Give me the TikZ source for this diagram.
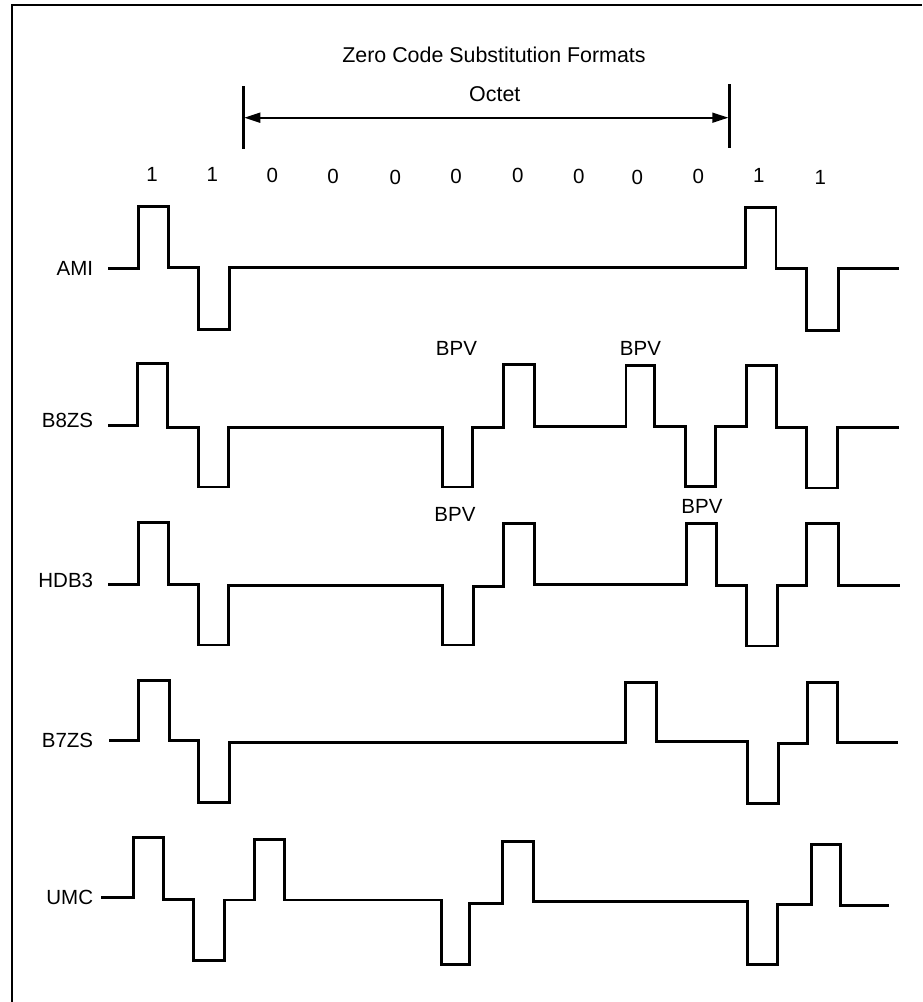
\documentclass[tikz,border=0pt]{standalone}
\usepackage{fontspec}
\setmainfont{Liberation Sans}
\usetikzlibrary{positioning,arrows.meta}

\begin{document}
\begin{tikzpicture}[
  x=1pt,y=-1pt,
  sigtext/.style={font=\fontsize{20.5}{24}\selectfont,inner sep=0pt,anchor=base},
  headtext/.style={sigtext,font=\fontsize{21.4}{24}\selectfont},
  bitno/.style={sigtext},
  siglab/.style={sigtext,anchor=base east},
  wave/.style={line width=2.6pt},
  tick/.style={line width=2.6pt},
  span/.style={{Triangle[length=16pt,width=10pt]}-{Triangle[length=16pt,width=10pt]},line width=1.7pt,shorten <=1pt,shorten >=1pt},
]
\useasboundingbox (0,0) rectangle (922,1002);
% Frame - open at the page edge
\draw[line width=2pt] (12,1002) -- (12,5) -- (922,5);

% Title and octet span
\node[headtext] (title) at (494,62.7) {Zero Code Substitution Formats};
\node[headtext] (octet) at (494.8,101.7) {Octet};
\coordinate (tickl) at (243.3,117.7);
\coordinate (tickr) at (729.3,117.7);
\draw[tick] (243.3,86) -- (tickl) -- (243.3,148.7);
\draw[tick] (729.3,84) -- (tickr) -- (729.3,147.7);
\draw[span] (tickl) -- (tickr);

% Bit values
\node[bitno] (b1) at (152,181.7) {1};
\node[bitno] (b2) at (212.3,181.7) {1};
\node[bitno] (b3) at (272.3,182.3) {0};
\node[bitno] (b4) at (333,183.3) {0};
\node[bitno] (b5) at (395.3,184.3) {0};
\node[bitno] (b6) at (456,183) {0};
\node[bitno] (b7) at (517.7,182) {0};
\node[bitno] (b8) at (578.7,183.3) {0};
\node[bitno] (b9) at (637.3,184.3) {0};
\node[bitno] (b10) at (698.3,183.3) {0};
\node[bitno] (b11) at (758.7,182.7) {1};
\node[bitno] (b12) at (820.3,184.3) {1};

% AMI
\node[siglab] (ami) at (93.3,275) {AMI};
\draw[wave] (108.3,268.3) -| (138.3,206.7) -| (168.3,267.3) -| (198.7,329.3) -| (229.7,267.3)
  -| (745.3,207.7) -| (776,268.3) -| (806.7,330.3) -| (838.3,268.3) -- (898.7,268.3);

% B8ZS
\node[siglab] (b8zs) at (93.3,427.7) {B8ZS};
\node[sigtext] (bpva) at (456.5,355.7) {BPV};
\node[sigtext] (bpvb) at (640.5,355.7) {BPV};
\draw[wave] (108.3,425.3) -| (137.3,363.7) -| (167.3,427.3) -| (198.7,487) -| (228.7,427.3)
  -| (442.7,487) -| (472.7,427.3) -| (503.7,364.3) -| (534.3,426.3) -| (626,365.3)
  -| (654.7,426.3) -| (685.3,486.3) -| (715.7,426.3) -| (746.7,365.3) -| (776.3,427.3)
  -| (806.7,488) -| (837.7,427.3) -- (898.7,427.3);

% HDB3
\node[siglab] (hdb3) at (93.3,587.7) {HDB3};
\node[sigtext] (bpvc) at (455,521.7) {BPV};
\node[sigtext] (bpvd) at (702,513.7) {BPV};
\draw[wave] (108.3,584.3) -| (138.3,522.7) -| (168.3,584.3) -| (198.7,645) -| (228.7,585.7)
  -| (442.7,645) -| (473.3,586.7) -| (503.7,523.3) -| (534.7,584.3) -| (686.7,523.3)
  -| (716.7,585.7) -| (746.7,646) -| (777.3,585.7) -| (806.7,523.3) -| (838.7,585.7) -- (899.7,585.7);

% B7ZS
\node[siglab] (b7zs) at (93.3,747) {B7ZS};
\draw[wave] (109.3,740.3) -| (138.3,680.7) -| (169.7,740.3) -| (198.7,802.3) -| (229.7,742.3)
  -| (625.7,682.7) -| (656.7,741.3) -| (747.7,803.3) -| (778.3,743.3) -| (807.7,682.7)
  -| (837.7,742.3) -- (897.7,742.3);

% UMC
\node[siglab] (umc) at (93.3,904.3) {UMC};
\draw[wave] (101.3,897.3) -| (133.3,837.3) -| (163.3,899.3) -| (193.3,960.3) -| (224.3,900)
  -| (254.3,839.3) -| (284.3,900) -| (441.3,964.3) -| (469.3,903.7) -| (502.3,841.3)
  -| (533.3,901.3) -| (747.7,964.3) -| (777.3,904.7) -| (811.7,844.3) -| (840.7,905.7) -- (888.7,905.7);
\end{tikzpicture}
\end{document}
